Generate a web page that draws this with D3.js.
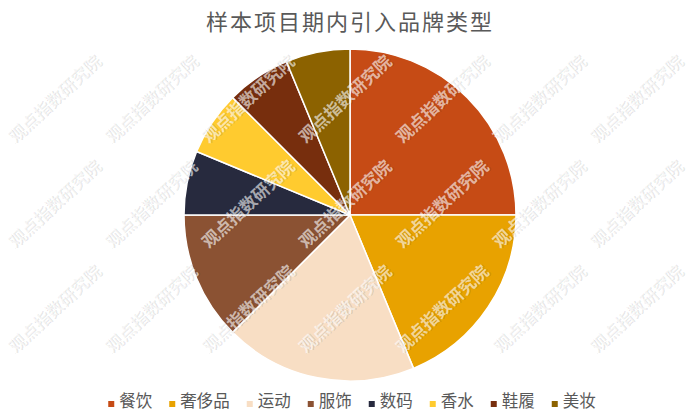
<!DOCTYPE html>
<html><head><meta charset="utf-8">
<script src="https://cdn.jsdelivr.net/npm/d3@7/dist/d3.min.js"></script>
<style>body{margin:0;background:#fff;}svg{display:block;}</style>
</head><body>
<svg id="c" width="700" height="420"></svg>
<script>
const title = "样本项目期内引入品牌类型";
const categories = ["餐饮","奢侈品","运动","服饰","数码","香水","鞋履","美妆"];
const values = [4,3,3,2,1,1,1,1];
const colors = ["#C64B15","#E8A200","#F8DEC4","#8B5233","#272A3E","#FFCB2F","#772E0D","#8C6200"];
const watermark = "观点指数研究院";

const W = 700, H = 420;
const svg = d3.select("#c");
const font = "'Noto Sans CJK SC','Microsoft YaHei',sans-serif";

svg.append("text").attr("x", 350).attr("y", 30).attr("text-anchor","middle")
  .attr("font-family", font).attr("font-size", 22).attr("fill","#595959")
  .attr("letter-spacing", 2).text(title);

const cx = 350, cy = 215, r = 166;
const data = categories.map((c,i)=>({c, v: values[i], col: colors[i]}));
const pie = d3.pie().value(d=>d.v).sort(null);
const arc = d3.arc().innerRadius(0).outerRadius(r);
const g = svg.append("g").attr("transform", `translate(${cx},${cy})`);
g.selectAll("path").data(pie(data)).join("path")
  .attr("d", arc).attr("fill", d=>d.data.col)
  .attr("stroke","#fff").attr("stroke-width",1.5).attr("stroke-linejoin","round");

// legend
const lg = svg.append("g");
let x = 0;
data.forEach(d=>{
  const it = lg.append("g").attr("transform", `translate(${x},0)`);
  it.append("rect").attr("x",0).attr("y",-6).attr("width",6).attr("height",6).attr("fill", d.col);
  const t = it.append("text").attr("x",11).attr("y",0).attr("font-family",font)
    .attr("font-size",16.5).attr("fill","#595959").text(d.c);
  const tw = t.node().getComputedTextLength();
  x += 11 + tw + 17;
});
const totalW = x - 17;
lg.attr("transform", `translate(${352 - totalW/2},407)`);

// watermark
const wm = svg.append("g").attr("font-family", font).attr("font-size", 17).attr("font-weight","bold");
for (let i = 0; i < 7; i++) {
  for (let j = 0; j < 3; j++) {
    const wx = 15 + 97*i, wy = 144 + 105*j;
    const grp = wm.append("g").attr("transform", `translate(${wx},${wy}) rotate(-43)`);
    grp.append("text").attr("x",1).attr("y",1).attr("fill","rgba(0,0,0,0.1)").text(watermark);
    grp.append("text").attr("x",0).attr("y",0).attr("fill","rgba(255,255,255,0.6)")
      .attr("stroke","rgba(0,0,0,0.04)").attr("stroke-width",0.6).text(watermark);
  }
}
</script>
</body></html>
